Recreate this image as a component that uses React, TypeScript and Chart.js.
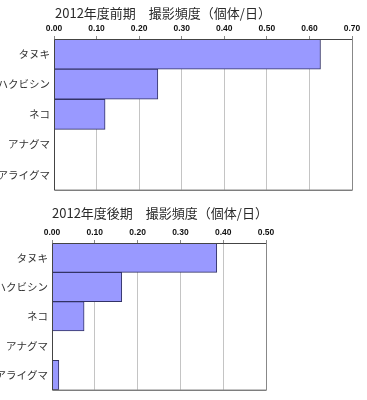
import React, { useEffect, useRef } from "react";
import { Chart, registerables } from "chart.js";

Chart.register(...registerables);

const categories = ["タヌキ", "ハクビシン", "ネコ", "アナグマ", "アライグマ"];
const firstHalfValues = [0.626, 0.244, 0.12, 0, 0];
const secondHalfValues = [0.385, 0.163, 0.075, 0, 0.016];
const firstHalfTitle = "2012年度前期　撮影頻度（個体/日）";
const secondHalfTitle = "2012年度後期　撮影頻度（個体/日）";
const firstHalfMax = 0.7;
const secondHalfMax = 0.5;

type Layout = {
  axisWidth: number;
  padTop: number;
  padRight: number;
  padBottom: number;
  titleX: number;
  titleY: number;
};

const titlePlugin = (text: string, x: number, y: number) => ({
  id: "customTitle",
  afterDraw(chart: any) {
    const ctx = chart.ctx;
    ctx.save();
    ctx.font = '13px "Noto Sans CJK JP"';
    ctx.fillStyle = "#2a2a2a";
    ctx.textBaseline = "middle";
    ctx.textAlign = "left";
    ctx.fillText(text, x, y);
    ctx.restore();
  },
});

const borderPlugin = {
  id: "areaBorder",
  afterDatasetsDraw(chart: any) {
    const { ctx, chartArea } = chart;
    ctx.save();
    ctx.strokeStyle = "#444";
    ctx.lineWidth = 1;
    ctx.beginPath();
    ctx.moveTo(chartArea.right + 0.5, chartArea.top + 0.5);
    ctx.lineTo(chartArea.left + 0.5, chartArea.top + 0.5);
    ctx.lineTo(chartArea.left + 0.5, chartArea.bottom + 0.5);
    ctx.lineTo(chartArea.right + 0.5, chartArea.bottom + 0.5);
    ctx.stroke();
    ctx.strokeStyle = "#888";
    ctx.beginPath();
    ctx.moveTo(chartArea.right + 0.5, chartArea.top + 0.5);
    ctx.lineTo(chartArea.right + 0.5, chartArea.bottom + 0.5);
    ctx.stroke();
    ctx.restore();
  },
};

function BarChart(props: {
  values: number[];
  max: number;
  title: string;
  layout: Layout;
  top: number;
}) {
  const ref = useRef<HTMLCanvasElement>(null);
  useEffect(() => {
    if (!ref.current) return;
    const L = props.layout;
    const chart = new Chart(ref.current, {
      type: "bar",
      data: {
        labels: categories,
        datasets: [
          {
            data: props.values,
            backgroundColor: "#9999ff",
            borderColor: "#333366",
            borderWidth: 1,
            categoryPercentage: 1,
            barPercentage: 1,
          },
        ],
      },
      options: {
        indexAxis: "y",
        animation: false,
        responsive: false,
        maintainAspectRatio: false,
        layout: {
          padding: { left: 0, top: L.padTop, right: L.padRight, bottom: L.padBottom },
        },
        plugins: {
          legend: { display: false },
          tooltip: { enabled: false },
          title: { display: false },
        },
        scales: {
          x: {
            position: "top",
            min: 0,
            max: props.max,
            ticks: {
              stepSize: 0.1,
              padding: 2,
              color: "#111",
              font: { family: "Liberation Sans", size: 8.5, weight: "bold" },
              callback: (v: any) => Number(v).toFixed(2),
            },
            grid: {
              color: "#c4c4c4",
              tickColor: "#888",
              tickLength: 3,
              drawTicks: true,
            },
            border: { display: false },
            afterFit: (scale: any) => {
              scale.height = 14;
            },
          },
          y: {
            ticks: {
              padding: 4,
              color: "#333",
              font: { family: "Noto Sans CJK JP", size: 10.5 },
            },
            grid: { display: false, drawTicks: false },
            border: { display: false },
            afterFit: (scale: any) => {
              scale.width = L.axisWidth;
            },
          },
        },
      },
      plugins: [titlePlugin(props.title, L.titleX, L.titleY), borderPlugin],
    } as any);
    return () => chart.destroy();
  }, []);
  return (
    <canvas
      ref={ref}
      width={367}
      height={200}
      style={{ position: "absolute", left: 0, top: props.top, width: 367, height: 200 }}
    />
  );
}

export default function App() {
  return (
    <div style={{ position: "absolute", left: 0, top: 0, width: 367, height: 400, background: "#fff" }}>
      <BarChart
        values={firstHalfValues}
        max={firstHalfMax}
        title={firstHalfTitle}
        top={0}
        layout={{ axisWidth: 54, padTop: 25, padRight: 15, padBottom: 7, titleX: 55, titleY: 13 }}
      />
      <BarChart
        values={secondHalfValues}
        max={secondHalfMax}
        title={secondHalfTitle}
        top={200}
        layout={{ axisWidth: 52, padTop: 29, padRight: 101, padBottom: 6, titleX: 52, titleY: 13 }}
      />
    </div>
  );
}
